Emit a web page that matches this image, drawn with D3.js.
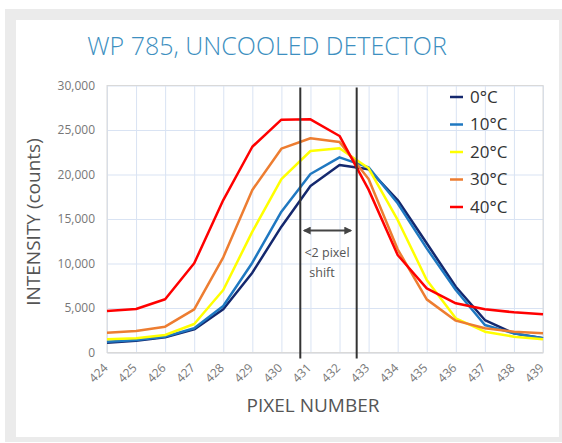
<!DOCTYPE html>
<html>
<head>
<meta charset="utf-8">
<script src="https://cdn.jsdelivr.net/npm/d3@7"></script>
<style>
  body { margin: 0; background: #fff; }
  svg text { font-family: "Open Sans", sans-serif; }
</style>
</head>
<body>
<div id="chart"></div>
<script>
// pixel numbers on the x axis
var pixels = [424,425,426,427,428,429,430,431,432,433,434,435,436,437,438,439];
var yTicks = [0,5000,10000,15000,20000,25000,30000];
var seriesNames = ["0°C","10°C","20°C","30°C","40°C"];
var seriesColors = ["#14286e","#1f78c1","#ffff00","#ed7d31","#ff0000"];

// (counts)
var temp0  = [1100,1330,1700,2600,4850,8970,14140,18700,21070,20600,17130,12270,7390,3650,2150,1590];
var temp10 = [1220,1400,1780,2720,5230,10090,15820,20060,21930,20800,16760,11700,7020,3090,2150,1590];
var temp20 = [1480,1590,1970,3200,7020,13580,19490,22640,22940,20700,14890,8150,3840,2340,1780,1480];
var temp30 = [2230,2420,2900,4850,10700,18260,22900,24070,23650,19500,11600,5970,3580,2720,2340,2150];
var temp40 = [4660,4890,5980,10020,17130,23120,26160,26200,24330,18300,10960,7210,5530,4850,4520,4290];
var allSeries = [temp0,temp10,temp20,temp30,temp40];

// positions of the two marker lines, in pixel units
var markers = [430.65, 432.59];

const W = 562, H = 443;
var svg = d3.select("#chart").append("svg")
  .attr("width", W)
  .attr("height", H);

// grey frame and white card
svg.append("rect").attr("x", 5).attr("y", 9).attr("width", 557).attr("height", 433).style("fill", "#ebebeb");
svg.append("rect").attr("x", 16).attr("y", 20).attr("width", 543).attr("height", 417).style("fill", "#fff");

const pLeft = 107, pRight = 543, pTop = 85.5, pBottom = 352.5;

var x = d3.scaleLinear().domain([424, 439]).range([pLeft, pRight]);
var y = d3.scaleLinear().domain([0, 30000]).range([pBottom, pTop]);

// gridlines
var g = svg.append("g");
g.append("g")
  .attr("transform", "translate(0," + pBottom + ")")
  .call(d3.axisBottom(x).tickValues(pixels).tickSize(-(pBottom - pTop)).tickFormat(""))
  .call(a => a.select(".domain").remove())
  .call(a => a.selectAll("line").style("stroke", "#d9e3f3").style("stroke-width", 1));
g.append("g")
  .attr("transform", "translate(" + pLeft + ",0)")
  .call(d3.axisLeft(y).tickValues(yTicks).tickSize(-(pRight - pLeft)).tickFormat(""))
  .call(a => a.select(".domain").remove())
  .call(a => a.selectAll("line").style("stroke", "#d9e3f3").style("stroke-width", 1));

// plot border
svg.append("rect")
  .attr("x", pLeft).attr("y", pTop)
  .attr("width", pRight - pLeft).attr("height", pBottom - pTop)
  .style("fill", "none").style("stroke", "#d9d9d9").style("stroke-width", 1);

// y tick labels
svg.append("g")
  .attr("transform", "translate(" + pLeft + ",0)")
  .call(d3.axisLeft(y).tickValues(yTicks).tickSize(0).tickPadding(12).tickFormat(d3.format(",")))
  .call(a => a.select(".domain").remove())
  .call(a => a.selectAll("text").style("fill", "#777").style("font-size", "12px").style("font-family", "Open Sans, sans-serif"));

// x tick labels, rotated
svg.append("g")
  .attr("transform", "translate(0," + pBottom + ")")
  .call(d3.axisBottom(x).tickValues(pixels).tickSize(0).tickFormat(d3.format("d")))
  .call(a => a.select(".domain").style("stroke", "#d9d9d9"))
  .call(a => a.selectAll("text")
    .attr("transform", "translate(-4,11) rotate(-45)")
    .attr("dy", "0.35em")
    .style("text-anchor", "end")
    .style("fill", "#777").style("font-size", "12px").style("font-family", "Open Sans, sans-serif"));

// the curves
var line = d3.line()
  .x((d, i) => x(pixels[i]))
  .y(d => y(d));

allSeries.forEach(function(s, k) {
  svg.append("path")
    .datum(s)
    .attr("d", line)
    .style("fill", "none")
    .style("stroke", seriesColors[k])
    .style("stroke-width", 2.5)
    .style("stroke-linejoin", "round");
});

// marker lines
markers.forEach(function(m) {
  svg.append("line")
    .attr("x1", x(m)).attr("x2", x(m))
    .attr("y1", pTop + 2).attr("y2", pBottom + 6)
    .style("stroke", "#333").style("stroke-width", 2);
});

// double arrow and its label
var defs = svg.append("defs");
defs.append("marker").attr("id", "ah").attr("viewBox", "0 0 10 10")
  .attr("refX", 8).attr("refY", 5).attr("markerWidth", 4).attr("markerHeight", 4)
  .attr("orient", "auto-start-reverse")
  .append("path").attr("d", "M0,0 L10,5 L0,10 z").style("fill", "#444");
svg.append("line")
  .attr("x1", x(markers[0]) + 4).attr("x2", x(markers[1]) - 6)
  .attr("y1", y(13700)).attr("y2", y(13700))
  .style("stroke", "#444").style("stroke-width", 2)
  .attr("marker-start", "url(#ah)").attr("marker-end", "url(#ah)");
svg.append("text").attr("x", 327).attr("y", 257).attr("text-anchor", "middle")
  .style("font-size", "12.5px").style("fill", "#555").text("<2 pixel");
svg.append("text").attr("x", 322).attr("y", 277).attr("text-anchor", "middle")
  .style("font-size", "12.5px").style("fill", "#555").text("shift");

// legend
var leg = svg.append("g");
seriesNames.forEach(function(n, k) {
  var ly = 97 + k * 27.5;
  leg.append("line").attr("x1", 450).attr("x2", 463).attr("y1", ly).attr("y2", ly)
    .style("stroke", seriesColors[k]).style("stroke-width", 2.5);
  leg.append("text").attr("x", 470).attr("y", ly).attr("dy", "0.35em")
    .style("font-size", "17px").style("fill", "#333").text(n);
});

// titles
svg.append("text").attr("x", 267).attr("y", 55).attr("text-anchor", "middle")
  .style("font-size", "25px").style("font-weight", 300).style("fill", "#3d8fc0").text("WP 785, UNCOOLED DETECTOR");
svg.append("text").attr("x", 313).attr("y", 412).attr("text-anchor", "middle")
  .style("font-size", "19px").style("fill", "#555").text("PIXEL NUMBER");
svg.append("text")
  .attr("transform", "translate(40,222) rotate(-90)")
  .attr("text-anchor", "middle")
  .style("font-size", "19px").style("fill", "#555").text("INTENSITY (counts)");
</script>
</body>
</html>
